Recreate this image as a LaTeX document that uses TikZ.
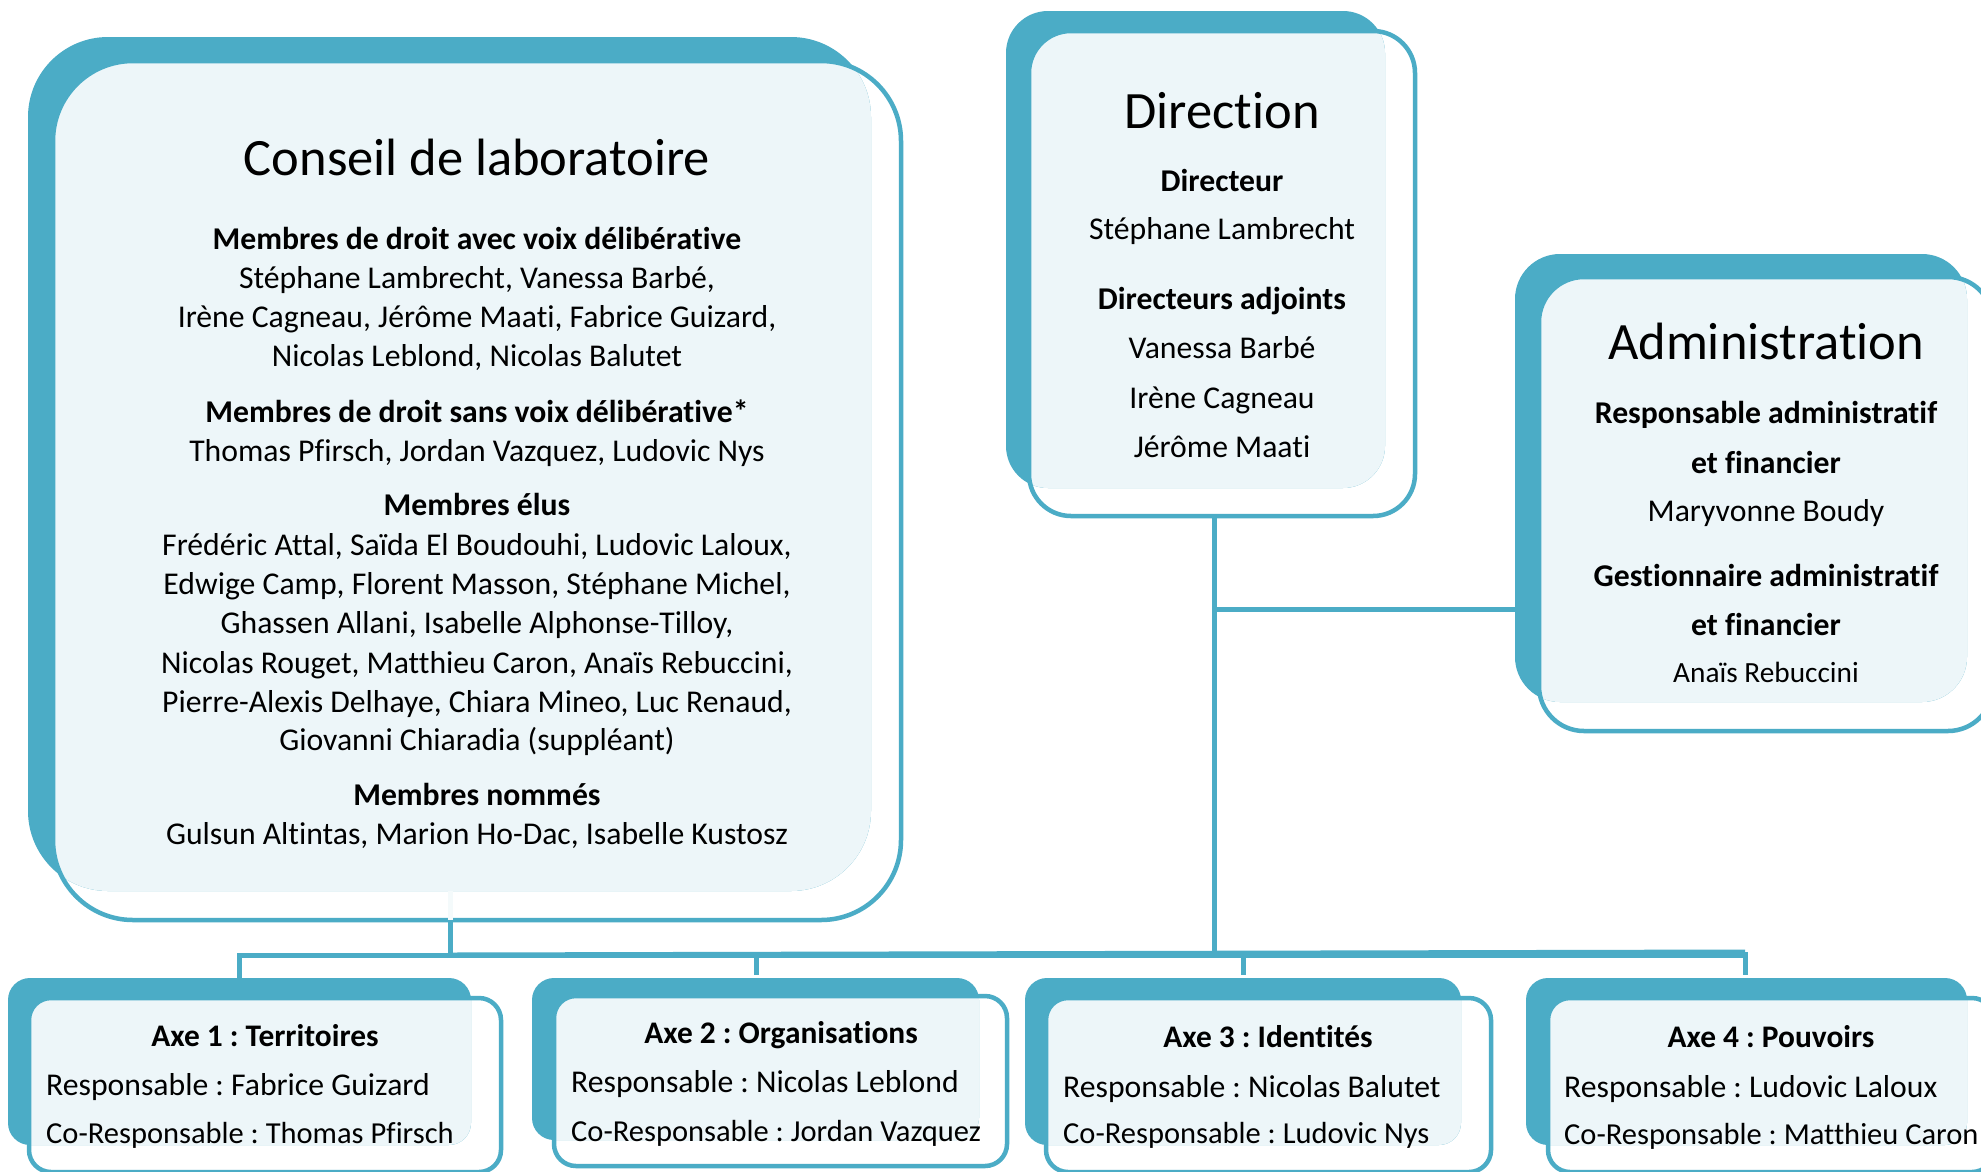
\documentclass[tikz,border=0pt]{standalone}
\usepackage{fontspec}
\setmainfont{Carlito}[Ligatures={NoCommon}]
\usetikzlibrary{fit}
\definecolor{teal1}{RGB}{75,172,198}
\definecolor{pale}{RGB}{237,246,249}
\frenchspacing
\tikzset{
  conn/.style={draw=teal1, line width=5pt},
  faintconn/.style={draw=pale!60!white, line width=5pt},
  ttl/.style={font=\fontsize{52.5}{60}\selectfont, anchor=base, inner sep=0pt},
  bodytxt/.style={font=\fontsize{31.7}{38}\selectfont, anchor=base, inner sep=0pt},
  boldtxt/.style={font=\fontsize{31.7}{38}\selectfont\bfseries, anchor=base, inner sep=0pt},
  smalltxt/.style={font=\fontsize{29.3}{36}\selectfont, anchor=base, inner sep=0pt},
  axetitle/.style={font=\fontsize{31.4}{38}\selectfont\bfseries, anchor=base, inner sep=0pt},
  resp/.style={font=\fontsize{31.7}{38}\selectfont, anchor=base west, inner sep=0pt},
  coresp/.style={font=\fontsize{30.5}{36}\selectfont, anchor=base west, inner sep=0pt},
}
% #1 name, #2-#5 back box, #6-#9 front box; corner radius in \prad
\newcommand\orgpanel[9]{%
  \fill[white, rounded corners=\prad] (#6,#7) rectangle (#8,#9);
  \fill[teal1, rounded corners=\prad] (#2,#3) rectangle (#4,#5);
  \begin{scope}
    \clip[rounded corners=\prad] (#2,#3) rectangle (#4,#5);
    \fill[pale, rounded corners=\prad] (#6,#7) rectangle (#8,#9);
  \end{scope}
  \draw[teal1, line width=4.5pt, rounded corners=\prad] (#6,#7) rectangle (#8,#9);
  \node[inner sep=0pt, outer sep=0pt, fit={(#6,#7)(#8,#9)}] (#1) {};
  \node[inner sep=0pt, outer sep=0pt, fit={(#2,#3)(#4,#5)}] (#1B) {};
}
\begin{document}
\begin{tikzpicture}[x=1pt, y=-1pt]
\useasboundingbox (0,0) rectangle (1981,1171);
\clip (0,0) rectangle (1981,1171);
\fill[white] (0,0) rectangle (1981,1171);

% connector junction points
\coordinate (consJ) at (450,920);
\coordinate (consBus) at (450,955);
\coordinate (dirJ) at (1214,516);
\coordinate (admJ) at (1214,609);
\coordinate (dirBus) at (1214,952);
\coordinate (a1top) at (239,955);
\coordinate (a2top) at (756,952);
\coordinate (a3top) at (1243,952);
\coordinate (a4top) at (1745,952);
\coordinate (a1end) at (239,975);
\coordinate (a2end) at (756,975);
\coordinate (a3end) at (1243,975);
\coordinate (a4end) at (1745,975);
\coordinate (busEnd) at (1745,955);

% connectors (behind boxes)
\draw[conn] (dirJ) -- (dirBus);
\draw[conn] (consBus) -- (a4top);
\draw[conn, line cap=rect] (a1end) -- (a1top) -- (busEnd);
\draw[conn] (a2top) -- (a2end);
\draw[conn] (a3top) -- (a3end);
\draw[conn] (a4top) -- (a4end);
\draw[conn] (consJ) -- (consBus);

% panels
\def\prad{80pt}
\orgpanel{cons}{28}{37}{871}{891}{53}{61}{901}{920}
\def\prad{42pt}
\orgpanel{dir}{1006}{11}{1385}{488}{1029}{31}{1415}{516}
\def\prad{45pt}
\orgpanel{adm}{1515}{254}{1967}{702}{1539}{277}{1993}{731}
\def\prad{22pt}
\orgpanel{axeA}{8}{978}{471}{1145}{29}{998}{501}{1172}
\orgpanel{axeB}{532}{978}{979}{1140}{554}{996}{1007}{1166}
\orgpanel{axeC}{1025}{978}{1461}{1145}{1046}{998}{1491}{1172}
\orgpanel{axeD}{1526}{978}{1967}{1145}{1548}{998}{1994}{1172}

% connector pieces drawn over boxes
\draw[faintconn] (consB.south -| consJ) -- (consJ);
\draw[conn] (admJ) -- (admJ -| admB.west);

% Conseil de laboratoire
\node[ttl] (c0) at (477,175) {Conseil de laboratoire};
\node[boldtxt] (c1) at (477,249) {Membres de droit avec voix délibérative};
\node[bodytxt] (c2) at (477,288) {Stéphane Lambrecht, Vanessa Barbé,};
\node[bodytxt] (c3) at (477,327) {Irène Cagneau, Jérôme Maati, Fabrice Guizard,};
\node[bodytxt] (c4) at (477,366) {Nicolas Leblond, Nicolas Balutet};
\node[boldtxt] (c5) at (477,422) {Membres de droit sans voix délibérative*};
\node[bodytxt] (c6) at (477,461) {Thomas Pfirsch, Jordan Vazquez, Ludovic Nys};
\node[boldtxt] (c7) at (477,515) {Membres élus};
\node[bodytxt] (c8) at (477,555) {Frédéric Attal, Saïda El Boudouhi, Ludovic Laloux,};
\node[bodytxt] (c9) at (477,594) {Edwige Camp, Florent Masson, Stéphane Michel,};
\node[bodytxt] (c10) at (477,633) {Ghassen Allani, Isabelle Alphonse-Tilloy,};
\node[bodytxt] (c11) at (477,673) {Nicolas Rouget, Matthieu Caron, Anaïs Rebuccini,};
\node[bodytxt] (c12) at (477,712) {Pierre-Alexis Delhaye, Chiara Mineo, Luc Renaud,};
\node[bodytxt] (c13) at (477,750) {Giovanni Chiaradia (suppléant)};
\node[boldtxt] (c14) at (477,805) {Membres nommés};
\node[bodytxt] (c15) at (477,844) {Gulsun Altintas, Marion Ho-Dac, Isabelle Kustosz};

% Direction
\node[ttl] (d0) at (1222,128) {Direction};
\node[boldtxt] (d1) at (1222,191) {Directeur};
\node[bodytxt] (d2) at (1222,239) {Stéphane Lambrecht};
\node[boldtxt] (d3) at (1222,309) {Directeurs adjoints};
\node[bodytxt] (d4) at (1222,358) {Vanessa Barbé};
\node[bodytxt] (d5) at (1222,408) {Irène Cagneau};
\node[bodytxt] (d6) at (1222,457) {Jérôme Maati};

% Administration
\node[ttl] (m0) at (1766,359) {Administration};
\node[boldtxt] (m1) at (1766,423) {Responsable administratif};
\node[boldtxt] (m2) at (1766,473) {et financier};
\node[bodytxt] (m3) at (1766,521) {Maryvonne Boudy};
\node[boldtxt] (m4) at (1766,586) {Gestionnaire administratif};
\node[boldtxt] (m5) at (1766,635) {et financier};
\node[smalltxt] (m6) at (1766,682) {Anaïs Rebuccini};

% Axes
\node[axetitle] (x1t) at (265,1046) {Axe 1 : Territoires};
\node[resp] (x1r) at (46,1095) {Responsable : Fabrice Guizard};
\node[coresp] (x1c) at (46,1143) {Co-Responsable : Thomas Pfirsch};

\node[axetitle] (x2t) at (781,1043) {Axe 2 : Organisations};
\node[resp] (x2r) at (571,1092) {Responsable : Nicolas Leblond};
\node[coresp] (x2c) at (571,1141) {Co-Responsable : Jordan Vazquez};

\node[axetitle] (x3t) at (1268,1047) {Axe 3 : Identités};
\node[resp] (x3r) at (1063,1097) {Responsable : Nicolas Balutet};
\node[coresp] (x3c) at (1063,1143) {Co-Responsable : Ludovic Nys};

\node[axetitle] (x4t) at (1771,1047) {Axe 4 : Pouvoirs};
\node[resp] (x4r) at (1564,1097) {Responsable : Ludovic Laloux};
\node[coresp] (x4c) at (1564,1144) {Co-Responsable : Matthieu Caron};
\end{tikzpicture}
\end{document}
